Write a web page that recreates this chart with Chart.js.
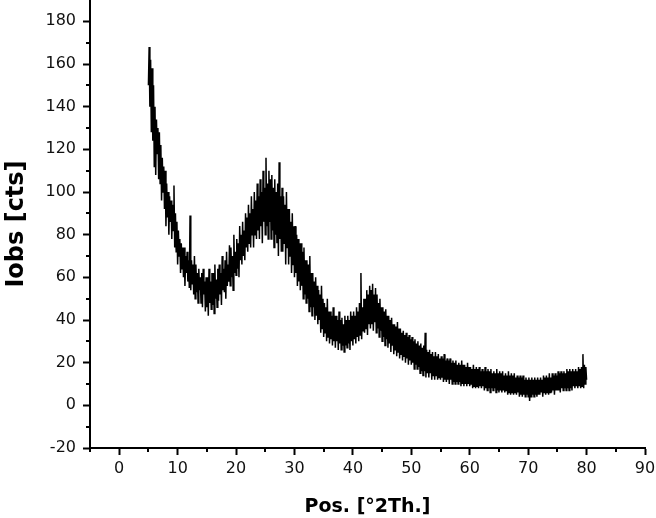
<!DOCTYPE html>
<html>
<head>
<meta charset="utf-8">
<script src="https://cdn.jsdelivr.net/npm/chart.js@4"></script>
<style>
  html, body { margin: 0; padding: 0; background: #fff; }
  #wrap { width: 656px; height: 518px; }
</style>
</head>
<body>
<div id="wrap"><canvas id="xrd"></canvas></div>
<script>
// scan: 5 .. 80 °2Th, one reading every 0.125°
const scanStart = 5;
const scanStep = 0.125;

// counts, 8 readings per degree (row = one degree)
const counts = [
    150, 168, 140, 162, 128, 158, 124, 150,   // 5
    112, 140, 108, 134, 118, 130, 106, 128,
    104, 122, 96, 116, 100, 112, 92, 110,
    84, 104, 88, 100, 80, 98, 86, 96,
    78, 94, 82, 103, 74, 90, 72, 86,
    66, 82, 70, 78, 62, 76, 64, 74,           // 10
    60, 74, 56, 70, 62, 72, 58, 68,
    55, 89, 54, 68, 57, 66, 52, 70,
    50, 66, 53, 62, 48, 64, 54, 60,
    48, 62, 46, 64, 52, 58, 44, 60,
    46, 60, 42, 64, 48, 58, 45, 62,           // 15
    47, 62, 43, 66, 50, 59, 46, 64,
    49, 66, 52, 62, 47, 70, 54, 64,
    53, 68, 50, 72, 56, 66, 58, 75,
    56, 74, 60, 70, 54, 80, 62, 72,
    61, 78, 64, 76, 60, 84, 68, 80,           // 20
    66, 86, 70, 82, 68, 90, 74, 88,
    72, 94, 76, 90, 74, 98, 80, 92,
    74, 100, 80, 96, 78, 104, 82, 98,
    78, 106, 84, 100, 76, 110, 86, 102,
    80, 116, 84, 104, 78, 110, 86, 106,       // 25
    78, 108, 82, 102, 74, 106, 80, 100,
    76, 104, 70, 114, 78, 98, 72, 102,
    72, 98, 76, 94, 66, 100, 74, 92,
    66, 92, 70, 86, 62, 90, 66, 84,
    60, 84, 62, 80, 56, 78, 58, 76,           // 30
    54, 76, 56, 72, 50, 74, 52, 68,
    48, 68, 50, 66, 44, 70, 46, 62,
    42, 62, 46, 58, 40, 60, 42, 56,
    38, 54, 40, 52, 34, 56, 36, 50,
    32, 48, 34, 46, 30, 50, 32, 44,           // 35
    29, 44, 31, 42, 28, 46, 30, 42,
    27, 42, 30, 40, 26, 44, 29, 40,
    26, 41, 28, 38, 25, 42, 28, 40,
    27, 42, 29, 40, 26, 44, 30, 42,
    28, 44, 31, 42, 29, 46, 32, 44,           // 40
    30, 48, 33, 62, 31, 46, 35, 50,
    34, 50, 36, 54, 33, 52, 38, 56,
    36, 54, 38, 57, 35, 52, 39, 55,
    34, 52, 36, 48, 32, 50, 35, 46,
    30, 46, 32, 44, 28, 45, 31, 42,           // 45
    27, 42, 29, 40, 25, 41, 28, 38,
    24, 38, 26, 37, 23, 39, 25, 36,
    22, 36, 24, 34, 21, 35, 23, 33,
    20, 34, 22, 32, 19, 33, 21, 31,
    19, 32, 20, 30, 17, 31, 19, 29,           // 50
    17, 30, 18, 28, 15, 29, 16, 27,
    14, 28, 16, 34, 13, 26, 15, 25,
    13, 26, 15, 24, 12, 25, 14, 23,
    12, 25, 14, 23, 12, 24, 13, 22,
    12, 23, 13, 22, 11, 24, 12, 21,           // 55
    11, 22, 12, 21, 10, 22, 12, 20,
    10, 21, 11, 20, 10, 21, 11, 19,
    10, 20, 11, 19, 9, 21, 10, 19,
    9, 19, 10, 18, 9, 20, 10, 18,
    9, 18, 10, 17, 8, 19, 9, 17,              // 60
    8, 18, 9, 17, 8, 18, 9, 16,
    8, 17, 9, 16, 7, 18, 8, 16,
    7, 17, 8, 16, 6, 17, 8, 15,
    7, 16, 8, 15, 6, 17, 7, 15,
    6, 16, 7, 15, 6, 16, 7, 14,               // 65
    6, 15, 7, 14, 5, 16, 6, 14,
    5, 15, 6, 14, 5, 15, 6, 13,
    5, 14, 6, 13, 4, 14, 5, 13,
    4, 14, 5, 12, 4, 13, 5, 12,
    4, 13, 2, 12, 4, 13, 5, 12,               // 70
    4, 13, 5, 12, 4, 13, 5, 12,
    5, 13, 6, 12, 4, 14, 6, 13,
    5, 14, 6, 13, 5, 15, 6, 13,
    6, 15, 7, 14, 5, 15, 7, 14,
    7, 16, 7, 15, 6, 16, 8, 15,               // 75
    7, 16, 8, 15, 7, 17, 8, 16,
    7, 17, 8, 16, 7, 17, 9, 16,
    8, 17, 9, 16, 8, 18, 9, 17,
    8, 18, 9, 24, 8, 19, 10, 18,
    12                                        // 80
];

const xTickValues = [0, 10, 20, 30, 40, 50, 60, 70, 80, 90];
const xMinorValues = [-5, 5, 15, 25, 35, 45, 55, 65, 75, 85];
const yTickValues = [-20, 0, 20, 40, 60, 80, 100, 120, 140, 160, 180];
const yMinorValues = [-10, 10, 30, 50, 70, 90, 110, 130, 150, 170];

const points = counts.map((c, i) => ({ x: scanStart + i * scanStep, y: c }));

// short ticks between the labelled ones
const minorTicks = {
    id: "minorTicks",
    afterDraw(chart) {
        const ctx = chart.ctx;
        const xs = chart.scales.x;
        const ys = chart.scales.y;
        const area = chart.chartArea;
        ctx.save();
        ctx.strokeStyle = "#000";
        ctx.lineWidth = 2;
        ctx.beginPath();
        xMinorValues.forEach((v) => {
            const px = Math.round(xs.getPixelForValue(v));
            ctx.moveTo(px, area.bottom);
            ctx.lineTo(px, area.bottom + 4);
        });
        yMinorValues.forEach((v) => {
            const py = Math.round(ys.getPixelForValue(v));
            ctx.moveTo(area.left, py);
            ctx.lineTo(area.left - 4, py);
        });
        ctx.stroke();
        ctx.restore();
    },
};

const tickFont = { family: "DejaVu Sans", size: 16 };
const xTitleFont = { family: "DejaVu Sans", size: 19, weight: "bold" };
const yTitleFont = { family: "DejaVu Sans", size: 24, weight: "bold" };

new Chart(document.getElementById("xrd"), {
    type: "line",
    data: {
        datasets: [
            {
                data: points,
                borderColor: "#000",
                borderWidth: 1.5,
                pointRadius: 0,
                tension: 0,
            },
        ],
    },
    options: {
        responsive: true,
        maintainAspectRatio: false,
        animation: false,
        layout: { padding: { top: 0, right: 11, left: 2, bottom: 0 } },
        plugins: { legend: { display: false }, tooltip: { enabled: false } },
        scales: {
            x: {
                type: "linear",
                min: -5,
                max: 90,
                afterBuildTicks: (s) => { s.ticks = xTickValues.map((v) => ({ value: v })); },
                afterFit: (s) => { s.height = 70; s.paddingLeft = 0; s.paddingRight = 0; },
                ticks: { font: tickFont, color: "#111", padding: 4, maxRotation: 0, autoSkip: false },
                grid: { drawOnChartArea: false, drawTicks: true, tickLength: 7, tickWidth: 2, tickColor: "#000" },
                border: { display: true, color: "#000", width: 2 },
                title: { display: true, text: "Pos. [°2Th.]", font: xTitleFont, color: "#000", padding: { top: 8, bottom: 0 } },
            },
            y: {
                type: "linear",
                min: -20,
                max: 190,
                afterBuildTicks: (s) => { s.ticks = yTickValues.map((v) => ({ value: v })); },
                afterFit: (s) => { s.width = 88; s.paddingTop = 0; s.paddingBottom = 0; },
                ticks: { font: tickFont, color: "#111", padding: 7, autoSkip: false },
                grid: { drawOnChartArea: false, drawTicks: true, tickLength: 7, tickWidth: 2, tickColor: "#000" },
                border: { display: true, color: "#000", width: 2 },
                title: { display: true, text: "Iobs [cts]", font: yTitleFont, color: "#000", padding: { top: 0, bottom: 4 } },
            },
        },
    },
    plugins: [minorTicks],
});
</script>
</body>
</html>
